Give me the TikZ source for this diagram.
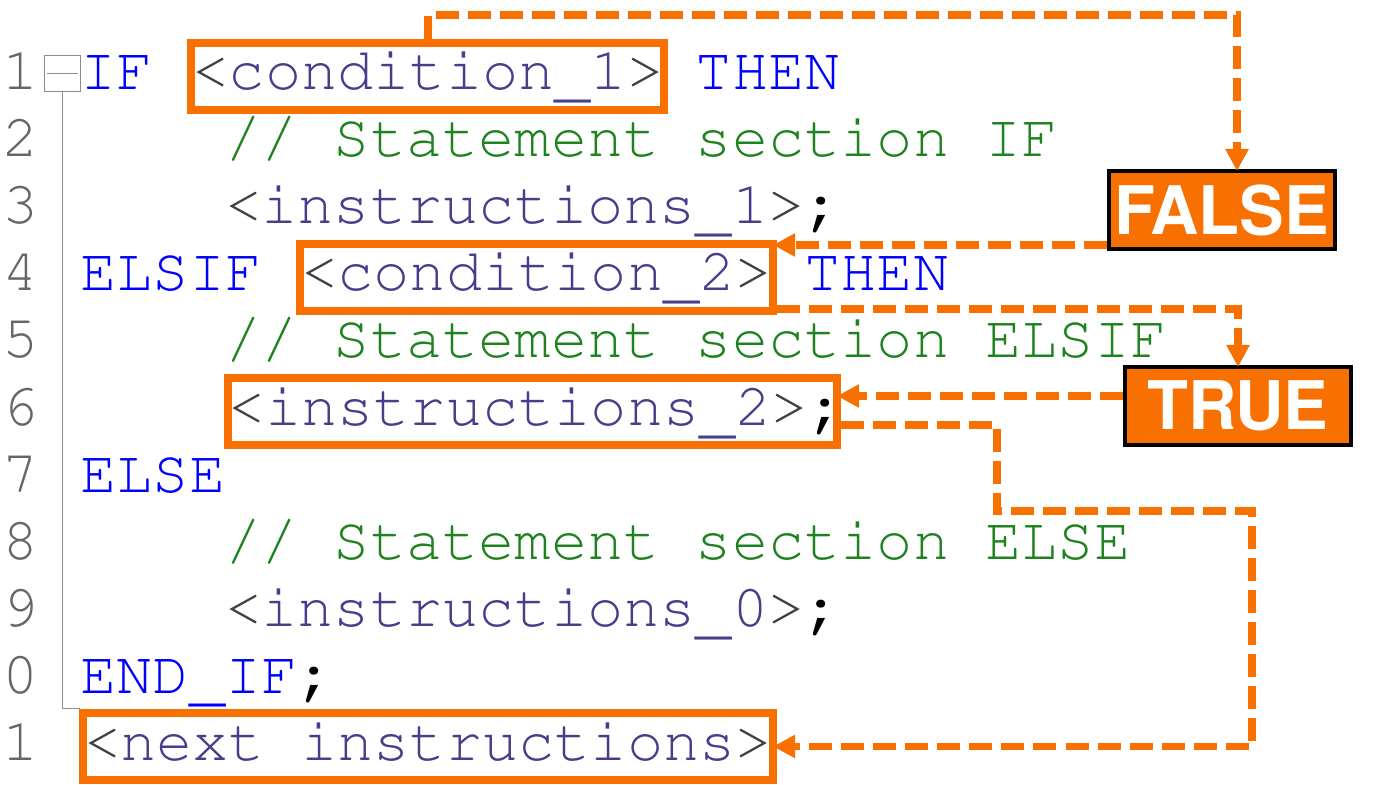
\documentclass[tikz,border=0pt]{standalone}
\usepackage[T1,TU]{fontenc}
\usetikzlibrary{arrows.meta,positioning}
\definecolor{hlorange}{HTML}{F87000}
\definecolor{kwblue}{HTML}{0000FF}
\definecolor{cmtgreen}{HTML}{1E821E}
\definecolor{insviolet}{HTML}{483D8B}
\definecolor{brkgray}{HTML}{404040}
\definecolor{numgray}{HTML}{666666}
\definecolor{foldgray}{HTML}{8C8C8C}
\newcommand\codefont{\fontencoding{T1}\fontfamily{pcr}\fontseries{m}\fontshape{n}\fontsize{30.17pt}{33.5pt}\selectfont}
\newcommand\labelfont{\fontencoding{T1}\fontfamily{phv}\fontseries{b}\fontshape{n}\fontsize{33.5pt}{40pt}\selectfont}
\newcommand\kw[1]{\textcolor{kwblue}{#1}}
\newcommand\cmt[1]{\textcolor{cmtgreen}{#1}}
\newcommand\us{\raisebox{-3pt}{\_}}
\newcommand\inst[1]{\textcolor{brkgray}{<}\textcolor{insviolet}{#1}\textcolor{brkgray}{>}}
\newcommand\semi{\textcolor{black}{\bfseries;}}
\tikzset{
%Define standard arrow tip
>={Triangle[length=11pt,width=11pt]},
%Styles for the code listing
codeline/.style={anchor=base west, inner sep=0pt, font=\codefont},
lnum/.style={codeline, text=numgray},
hl/.style={codeline, draw=hlorange, line width=4pt, inner xsep=0.6pt, xshift=-0.6pt,
  text height=23.5pt, text depth=10pt},
fold/.style={draw=foldgray, line width=0.5pt},
%Styles for the branch labels and the flow lines
flag/.style={draw=black, line width=2pt, fill=hlorange, text=white, font=\labelfont,
  minimum width=113pt, minimum height=39pt, inner sep=0pt},
flow/.style={->, draw=hlorange, line width=3.8pt, dash pattern=on 11.5pt off 4.5pt, shorten >=-1pt},
}

\begin{document}
\begin{tikzpicture}[x=0.5pt,y=-0.5pt]
    \useasboundingbox (0,0) rectangle (1400,785);
    %Line numbers
    \foreach \lab [count=\i] in {1,2,3,4,5,6,7,8,9,0,1}
      \node[lnum] (num\i) at (2,{90+(\i-1)*67}) {\lab};
    %Fold marker
    \node[fold, minimum size=18pt, inner sep=0pt] (foldbox) at (62.5,73.5) {};
    \draw[fold] ([xshift=1.5pt]foldbox.west) -- ([xshift=-1.5pt]foldbox.east);
    \coordinate (foldend) at (80,708);
    \draw[fold] (foldbox.south) |- (foldend);

    %%%%%%%%%%%%%%%%%%%%%%
    %The code, one column is 36.2, one line is 67
    %%%%%%%%%%%%%%%%%%%%%%
    %%line 1
    \node[codeline] (if) at (80,90) {\kw{IF}};
    \node[hl] (cond1) at ({80+3*36.2},90) {\inst{condition\us1}};
    \node[codeline] (then1) at ({80+17*36.2},90) {\kw{THEN}};
    %%line 2
    \node[codeline] (cmt1) at ({80+4*36.2},157) {\cmt{// Statement section IF}};
    %%line 3
    \node[codeline] (ins1) at ({80+4*36.2},224) {\inst{instructions\us1}\semi};
    %%line 4
    \node[codeline] (elsif) at (80,291) {\kw{ELSIF}};
    \node[hl] (cond2) at ({80+6*36.2},291) {\inst{condition\us2}};
    \node[codeline] (then2) at ({80+20*36.2},291) {\kw{THEN}};
    %%line 5
    \node[codeline] (cmt2) at ({80+4*36.2},358) {\cmt{// Statement section ELSIF}};
    %%line 6
    \node[hl] (ins2) at ({80+4*36.2},425) {\inst{instructions\us2}\makebox[0.46em][l]{\semi}};
    %%line 7
    \node[codeline] (else) at (80,492) {\kw{ELSE}};
    %%line 8
    \node[codeline] (cmt3) at ({80+4*36.2},559) {\cmt{// Statement section ELSE}};
    %%line 9
    \node[codeline] (ins0) at ({80+4*36.2},626) {\inst{instructions\us0}\semi};
    %%line 10
    \node[codeline] (endif) at (80,693) {\kw{END\us IF}\semi};
    %%line 11
    \node[hl] (next) at (80,760) {\inst{next instructions}};

    %Branch labels
    \node[flag] (flagfalse) at (1222,210) {FALSE};
    \node[flag] (flagtrue) at (1238,406) {TRUE};

    %Flow of the condition 1 to FALSE
    \coordinate (ftop) at (1237,15);
    \draw[flow] (cond1.north) |- (ftop) -- (ftop |- flagfalse.north);
    %FALSE goes on to condition 2
    \coordinate (f2) at ([yshift=3pt]flagfalse.south west);
    \draw[flow, shorten >=-2pt] (f2) -- (f2 -| cond2.east);
    %condition 2 to TRUE
    \draw[flow] ([yshift=3pt]cond2.south east) -| (flagtrue.north);
    %TRUE runs instructions 2
    \coordinate (t2) at ([yshift=5pt]flagtrue.west);
    \draw[flow, shorten >=-2pt] (t2) -- (t2 -| ins2.east);
    %and then jumps to the next instructions
    \coordinate (k1) at (997,511);
    \coordinate (k2) at (1252,600);
    \draw[flow, shorten >=-2pt] ([yshift=-6.75pt]ins2.east) -| (k1) -| (k2) |- (next.east);
\end{tikzpicture}
\end{document}
